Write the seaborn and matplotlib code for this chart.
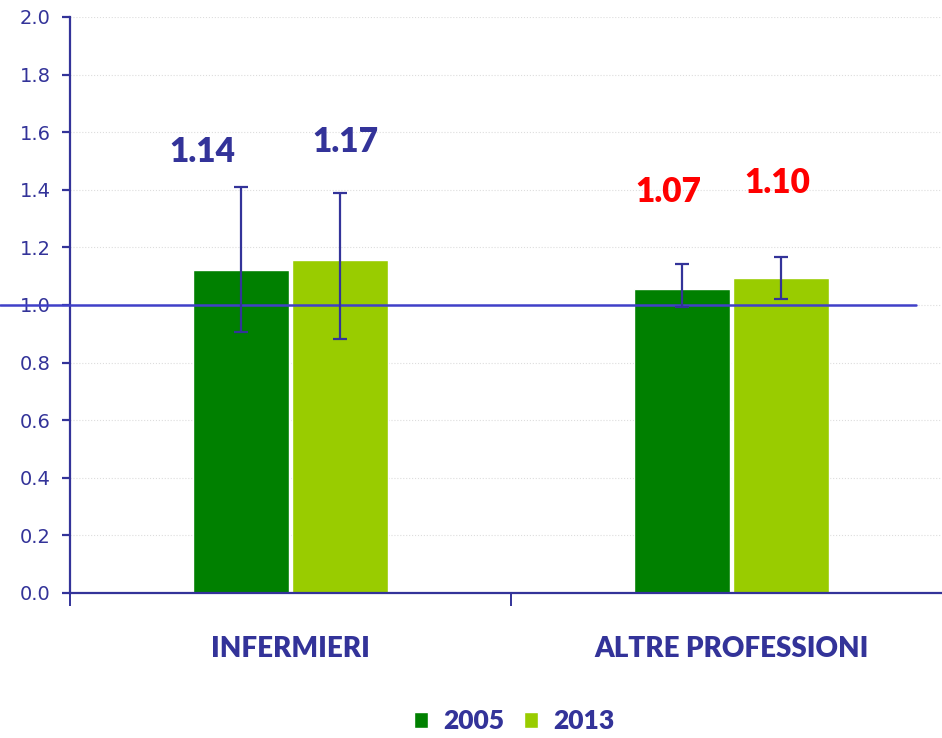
import numpy as np
import pandas as pd
import seaborn as sns
import matplotlib.pyplot as plt
from matplotlib.patches import Patch

# Data
categories = ['INFERMIERI', 'ALTRE PROFESSIONI']
years = ['2005', '2013']
values_2005 = [1.12, 1.056]
values_2013 = [1.156, 1.093]
ci_low_2005 = [0.906, 0.992]
ci_high_2005 = [1.41, 1.142]
ci_low_2013 = [0.882, 1.021]
ci_high_2013 = [1.39, 1.166]
labels_2005 = ['1.14', '1.07']
labels_2013 = ['1.17', '1.10']
label_colors = ['#333399', '#FF0000']  # per category
yticks = [0.0, 0.2, 0.4, 0.6, 0.8, 1.0, 1.2, 1.4, 1.6, 1.8, 2.0]

navy = '#333399'
colors = {'2005': '#008000', '2013': '#99CC00'}

df = pd.DataFrame({
    'cat': categories * 2,
    'year': ['2005'] * 2 + ['2013'] * 2,
    'value': values_2005 + values_2013,
})

sns.set_style('white')
plt.rcParams['font.family'] = ['DejaVu Sans']

fig = plt.figure(figsize=(9.42, 7.38), dpi=100)
ax = fig.add_axes([70 / 942, 1 - 593 / 738, 882 / 942, 576 / 738])

sns.barplot(data=df, x='cat', y='value', hue='year', order=categories,
            hue_order=years, palette=colors, saturation=1, width=0.45, gap=0.03,
            edgecolor='white', linewidth=1, legend=False, ax=ax, zorder=2)

# error bars placed on the bar centres
lows = {'2005': ci_low_2005, '2013': ci_low_2013}
highs = {'2005': ci_high_2005, '2013': ci_high_2013}
vals = {'2005': values_2005, '2013': values_2013}
for cont, yr in zip(ax.containers, years):
    xs = [p.get_x() + p.get_width() / 2 for p in cont.patches]
    v = np.array(vals[yr])
    lo = v - np.array(lows[yr])
    hi = np.array(highs[yr]) - v
    ax.errorbar(xs, v, yerr=[lo, hi], fmt='none', ecolor=navy,
                elinewidth=1.6, capsize=5, capthick=1.6, zorder=4)

# value labels (offsets in pixels from the bar top)
label_offsets = {'2005': [(-39, 118), (-14, 97)], '2013': [(5, 118), (-4, 95)]}
texts = {'2005': labels_2005, '2013': labels_2013}
for cont, yr in zip(ax.containers, years):
    for i, p in enumerate(cont.patches):
        dx, dy = label_offsets[yr][i]
        ax.annotate(texts[yr][i], (p.get_x() + p.get_width() / 2, p.get_height()),
                    xytext=(dx * 0.72, dy * 0.72), textcoords='offset points',
                    ha='center', va='center', fontsize=24, fontweight='heavy',
                    family='Lato', color=label_colors[i])

# reference line at 1.0
ax.axhline(1.0, xmin=-70 / 882, xmax=(916 - 70) / 882, color='#4040C8',
           lw=1.8, clip_on=False, zorder=3)

ax.set_xlim(-0.5, 1.5)
ax.set_ylim(0, 2.0)
ax.set_yticks(yticks)
ax.set_yticklabels([f'{t:.1f}' for t in yticks])
ax.yaxis.grid(True, color='#DDDDDD', linestyle=':', linewidth=0.8)
ax.set_axisbelow(True)

for s in ['top', 'right']:
    ax.spines[s].set_visible(False)
for s in ['left', 'bottom']:
    ax.spines[s].set_color(navy)
    ax.spines[s].set_linewidth(1.6)

ax.tick_params(axis='y', colors=navy, labelsize=14, length=6, width=1.6,
               direction='out', left=True, pad=8)
ax.set_xticks([0, 1])
ax.set_xticklabels(categories, fontsize=20, fontweight='heavy', family='Lato')
ax.tick_params(axis='x', which='major', length=0, colors=navy, pad=31)
ax.set_xticks([-0.5, 0.5, 1.5], minor=True)
ax.tick_params(axis='x', which='minor', length=9, width=1.4, color=navy,
               direction='out', bottom=True)
ax.set_xlabel('')
ax.set_ylabel('')

handles = [Patch(facecolor=colors[y], label=y) for y in years]
fig.legend(handles=handles, loc='lower center', bbox_to_anchor=(514 / 942, -0.026),
           ncol=2, frameon=False, handlelength=0.55, handleheight=0.55,
           handletextpad=0.55, columnspacing=0.75,
           prop={'family': 'Lato', 'weight': 'heavy', 'size': 19},
           labelcolor=navy)

fig.savefig('out.png', dpi=100)
